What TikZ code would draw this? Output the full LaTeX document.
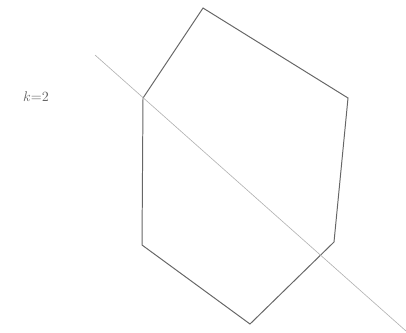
\documentclass[tikz,border=0pt]{standalone}
\usepackage{amsmath,amssymb}
\usetikzlibrary{calc}

\begin{document}
\begin{tikzpicture}[x=0.025cm,y=-0.025cm]
        \useasboundingbox (0,0) rectangle (406,332);
        % vertices of the hexagon (pixel-like coordinates, y downwards)
        \coordinate (T) at (203,8);
        \coordinate (UR) at (348,98);
        \coordinate (LR) at (334,242);
        \coordinate (Bo) at (250,324);
        \coordinate (LL) at (142,245);
        \coordinate (UL) at (143,98);

        % ends of the cutting line
        \coordinate (P) at (95,55);
        \coordinate (Q) at (406,331);

        \draw[gray!80!black, line width=0.7pt] (T) -- (UR) -- (LR) -- (Bo) -- (LL) -- (UL) -- cycle;
        \draw[gray!60, line width=0.45pt] (P) -- (Q);

        \node[gray!80!black] (k) at (36,97) {$k{=}2$};

    \end{tikzpicture}
\end{document}
